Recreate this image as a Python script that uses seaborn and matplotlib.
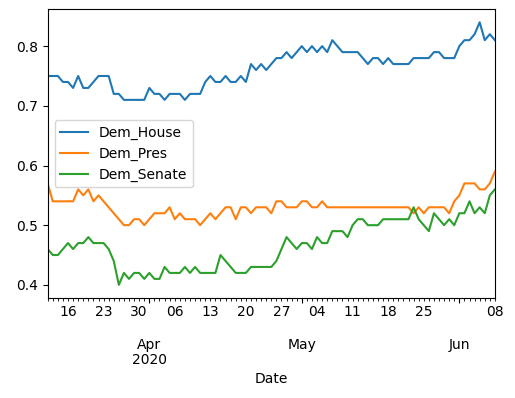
import pandas as pd
import numpy as np
import matplotlib
matplotlib.use("Agg")
import matplotlib.pyplot as plt
import matplotlib.dates as mdates
from matplotlib.ticker import FuncFormatter
import seaborn as sns

# daily dates, 12 Mar 2020 .. 08 Jun 2020
dates = pd.date_range("2020-03-12", "2020-06-08", freq="D")

dem_house = [0.75, 0.75, 0.75, 0.74, 0.74, 0.73, 0.75, 0.73, 0.73, 0.74,
             0.75, 0.75, 0.75, 0.72, 0.72, 0.71, 0.71, 0.71, 0.71, 0.71,
             0.73, 0.72, 0.72, 0.71, 0.72, 0.72, 0.72, 0.71, 0.72, 0.72,
             0.72, 0.74, 0.75, 0.74, 0.74, 0.75, 0.74, 0.74, 0.75, 0.74,
             0.77, 0.76, 0.77, 0.76, 0.77, 0.78, 0.78, 0.79, 0.78, 0.79,
             0.80, 0.79, 0.80, 0.79, 0.80, 0.79, 0.81, 0.80, 0.79, 0.79,
             0.79, 0.79, 0.78, 0.77, 0.78, 0.78, 0.77, 0.78, 0.77, 0.77,
             0.77, 0.77, 0.78, 0.78, 0.78, 0.78, 0.79, 0.79, 0.78, 0.78,
             0.78, 0.80, 0.81, 0.81, 0.82, 0.84, 0.81, 0.82, 0.81]

dem_pres = [0.57, 0.54, 0.54, 0.54, 0.54, 0.54, 0.56, 0.55, 0.56, 0.54,
            0.55, 0.54, 0.53, 0.52, 0.51, 0.50, 0.50, 0.51, 0.51, 0.50,
            0.51, 0.52, 0.52, 0.52, 0.53, 0.51, 0.52, 0.51, 0.51, 0.51,
            0.50, 0.51, 0.52, 0.51, 0.52, 0.53, 0.53, 0.51, 0.53, 0.53,
            0.52, 0.53, 0.53, 0.53, 0.52, 0.54, 0.54, 0.53, 0.53, 0.53,
            0.54, 0.54, 0.53, 0.53, 0.54, 0.53, 0.53, 0.53, 0.53, 0.53,
            0.53, 0.53, 0.53, 0.53, 0.53, 0.53, 0.53, 0.53, 0.53, 0.53,
            0.53, 0.53, 0.52, 0.53, 0.52, 0.53, 0.53, 0.53, 0.53, 0.52,
            0.54, 0.55, 0.57, 0.57, 0.57, 0.56, 0.56, 0.57, 0.59]

dem_senate = [0.46, 0.45, 0.45, 0.46, 0.47, 0.46, 0.47, 0.47, 0.48, 0.47,
              0.47, 0.47, 0.46, 0.44, 0.40, 0.42, 0.41, 0.42, 0.42, 0.41,
              0.42, 0.41, 0.41, 0.43, 0.42, 0.42, 0.42, 0.43, 0.42, 0.43,
              0.42, 0.42, 0.42, 0.42, 0.45, 0.44, 0.43, 0.42, 0.42, 0.42,
              0.43, 0.43, 0.43, 0.43, 0.43, 0.44, 0.46, 0.48, 0.47, 0.46,
              0.47, 0.47, 0.46, 0.48, 0.47, 0.47, 0.49, 0.49, 0.49, 0.48,
              0.50, 0.51, 0.51, 0.50, 0.50, 0.50, 0.51, 0.51, 0.51, 0.51,
              0.51, 0.51, 0.53, 0.51, 0.50, 0.49, 0.52, 0.51, 0.50, 0.51,
              0.50, 0.52, 0.52, 0.54, 0.52, 0.53, 0.52, 0.55, 0.56]

series = {"Dem_House": dem_house, "Dem_Pres": dem_pres, "Dem_Senate": dem_senate}
colors = sns.color_palette("tab10", 3)

fig = plt.figure(figsize=(5.15, 3.98), dpi=100)
ax = fig.add_axes([0.0926, 0.2513, 0.8684, 0.7257])

for (name, vals), c in zip(series.items(), colors):
    sns.lineplot(x=dates, y=vals, label=name, color=c, linewidth=1.5, ax=ax)

ax.set_xlim(dates[0], dates[-1])
ax.set_ylim(0.378, 0.862)
ax.set_yticks([0.4, 0.5, 0.6, 0.7, 0.8])

# pandas-like date ticks: months as major, every day as minor, Mondays labelled
def major_fmt(x, pos):
    d = mdates.num2date(x)
    if pos == 0:
        return d.strftime("%b\n%Y")
    return d.strftime("%b")

def minor_fmt(x, pos):
    d = mdates.num2date(x)
    if d.weekday() == 0 and d.day != 1:
        return d.strftime("%d")
    return ""

ax.xaxis.set_major_locator(mdates.MonthLocator())
ax.xaxis.set_major_formatter(FuncFormatter(major_fmt))
ax.xaxis.set_minor_locator(mdates.DayLocator())
ax.xaxis.set_minor_formatter(FuncFormatter(minor_fmt))
ax.tick_params(axis="both", which="both", labelsize=10)
ax.tick_params(axis="x", which="major", pad=25)
for lab in ax.get_xticklabels():
    lab.set_linespacing(1.1)

ax.set_xlabel("Date", fontsize=10)
ax.set_ylabel("")
ax.legend(loc="center left", fontsize=10)

fig.savefig("out.png", dpi=100)
